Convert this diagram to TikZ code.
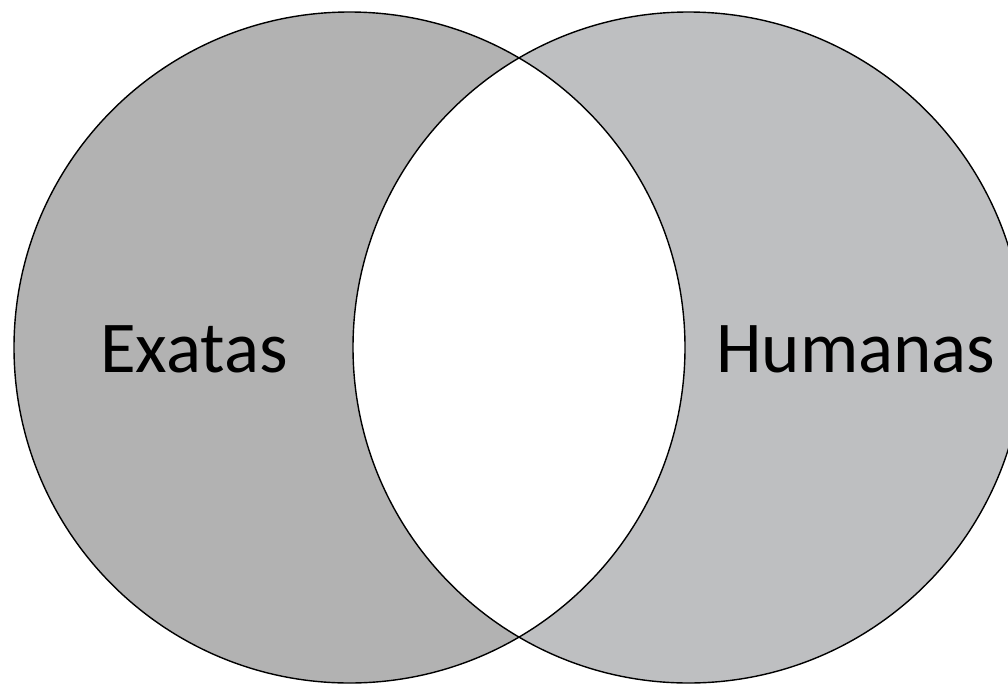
\documentclass[tikz,border=0pt]{standalone}
\usepackage{fontspec}
\setmainfont{Carlito}
\definecolor{leftgray}{HTML}{B2B2B2}
\definecolor{rightgray}{HTML}{BEBFC1}
\tikzset{
  outline/.style={draw=black, line width=1.4pt},
  lbl/.style={font=\fontsize{73}{80}\selectfont, text=black, inner sep=0pt, anchor=base}
}
\begin{document}
\begin{tikzpicture}[x=1pt,y=-1pt]
\useasboundingbox (0,0) rectangle (1008,683);
\clip (0,0) rectangle (1008,683);
\fill[leftgray] (349.5,347.5) circle[radius=335.5];
\fill[rightgray] (688.5,347.5) circle[radius=335.5];
\begin{scope}
  \clip (349.5,347.5) circle[radius=335.5];
  \fill[white] (688.5,347.5) circle[radius=335.5];
\end{scope}
\draw[outline] (349.5,347.5) circle[radius=335.5];
\draw[outline] (688.5,347.5) circle[radius=335.5];
\node[lbl] (exatas) at (194,372) {Exatas};
\node[lbl] (humanas) at (856,372) {Humanas};
\end{tikzpicture}
\end{document}
